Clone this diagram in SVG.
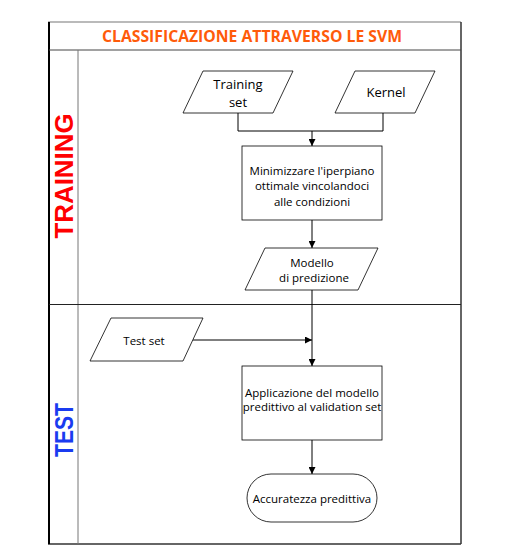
<svg xmlns="http://www.w3.org/2000/svg" width="506" height="559" viewBox="0 0 506 559">
<defs>
<style>
.t{font-family:"Open Sans","Liberation Sans",sans-serif;font-size:11.5px;fill:#000;text-anchor:middle}
.big{font-size:13px}
.n{fill:#fff;stroke:#000;stroke-width:0.8}
.b{fill:#fff;stroke:#000;stroke-width:0.8}
.c{fill:none;stroke:#000;stroke-width:1}
.lane{font-family:"Liberation Sans",Arial,sans-serif;font-weight:bold;font-size:25px;text-anchor:middle}
</style>
<marker id="ah" viewBox="0 0 8 8" refX="8" refY="4" markerWidth="7" markerHeight="7" markerUnits="userSpaceOnUse" orient="auto">
<path d="M0,0 L8,4 L0,8 z" fill="#000"/>
</marker>
</defs>
<rect width="506" height="559" fill="#fff"/>
<g id="frame">
<line x1="48" y1="22" x2="461" y2="22" stroke="#777" stroke-width="1.2"/>
<line x1="461" y1="22" x2="461" y2="544" stroke="#333" stroke-width="1.5"/>
<line x1="48" y1="544" x2="461" y2="544" stroke="#333" stroke-width="1.5"/>
<line x1="49" y1="22" x2="49" y2="544" stroke="#000" stroke-width="2"/>
<line x1="49" y1="50" x2="461" y2="50" stroke="#444" stroke-width="1"/>
<line x1="78" y1="50" x2="78" y2="544" stroke="#777" stroke-width="1"/>
<line x1="49" y1="304.5" x2="461" y2="304.5" stroke="#222" stroke-width="1"/>
<text x="252" y="42" font-family="'Open Sans','Liberation Sans',sans-serif" font-weight="bold" font-size="15.5" fill="#FF5B0A" text-anchor="middle" textLength="300" lengthAdjust="spacingAndGlyphs">CLASSIFICAZIONE ATTRAVERSO LE SVM</text>
<text class="lane" transform="translate(73,176) rotate(-90)" fill="#FF0000" textLength="125" lengthAdjust="spacingAndGlyphs">TRAINING</text>
<text class="lane" transform="translate(73,430) rotate(-90)" fill="#1A3BF0" textLength="54" lengthAdjust="spacingAndGlyphs">TEST</text>
</g>
<g id="connectors">
<polyline class="c" points="238,113 238,131 383,131 383,113"/>
<line class="c" x1="312" y1="131" x2="312" y2="146" marker-end="url(#ah)"/>
<line class="c" x1="312" y1="220" x2="312" y2="248" marker-end="url(#ah)"/>
<line class="c" x1="312" y1="290" x2="312" y2="366" marker-end="url(#ah)"/>
<line class="c" x1="193" y1="340" x2="312" y2="340" marker-end="url(#ah)"/>
<line class="c" x1="312" y1="440" x2="312" y2="474" marker-end="url(#ah)"/>
</g>
<g id="training-set">
<polygon class="n" points="203,71 293,71 273,113 183,113"/>
<text class="t big" x="238" y="89">Training</text>
<text class="t big" x="238" y="107">set</text>
</g>
<g id="kernel">
<polygon class="n" points="355,71 435,71 415,113 335,113"/>
<text class="t big" x="386" y="97">Kernel</text>
</g>
<g id="minimizzare">
<rect class="b" x="242" y="146" width="140" height="74" stroke="#444"/>
<text class="t" x="312" y="175">Minimizzare l'iperpiano</text>
<text class="t" x="312" y="190">ottimale vincolandoci</text>
<text class="t" x="312" y="206">alle condizioni</text>
</g>
<g id="modello">
<polygon class="n" points="265,248 378,248 358,290 245,290"/>
<text class="t" x="312" y="267">Modello</text>
<text class="t" x="314" y="282">di predizione</text>
</g>
<g id="test-set">
<polygon class="n" points="111,318 203,318 183,361 90,361"/>
<text class="t" x="144" y="345">Test set</text>
</g>
<g id="applicazione">
<rect class="b" x="242" y="366" width="140" height="74" stroke="#444"/>
<text class="t" x="312" y="397">Applicazione del modello</text>
<text class="t" x="312" y="411">predittivo al validation set</text>
</g>
<g id="accuratezza">
<rect class="b" x="247" y="474" width="130" height="48" rx="24" ry="24"/>
<text class="t" x="312" y="503">Accuratezza predittiva</text>
</g>
</svg>
